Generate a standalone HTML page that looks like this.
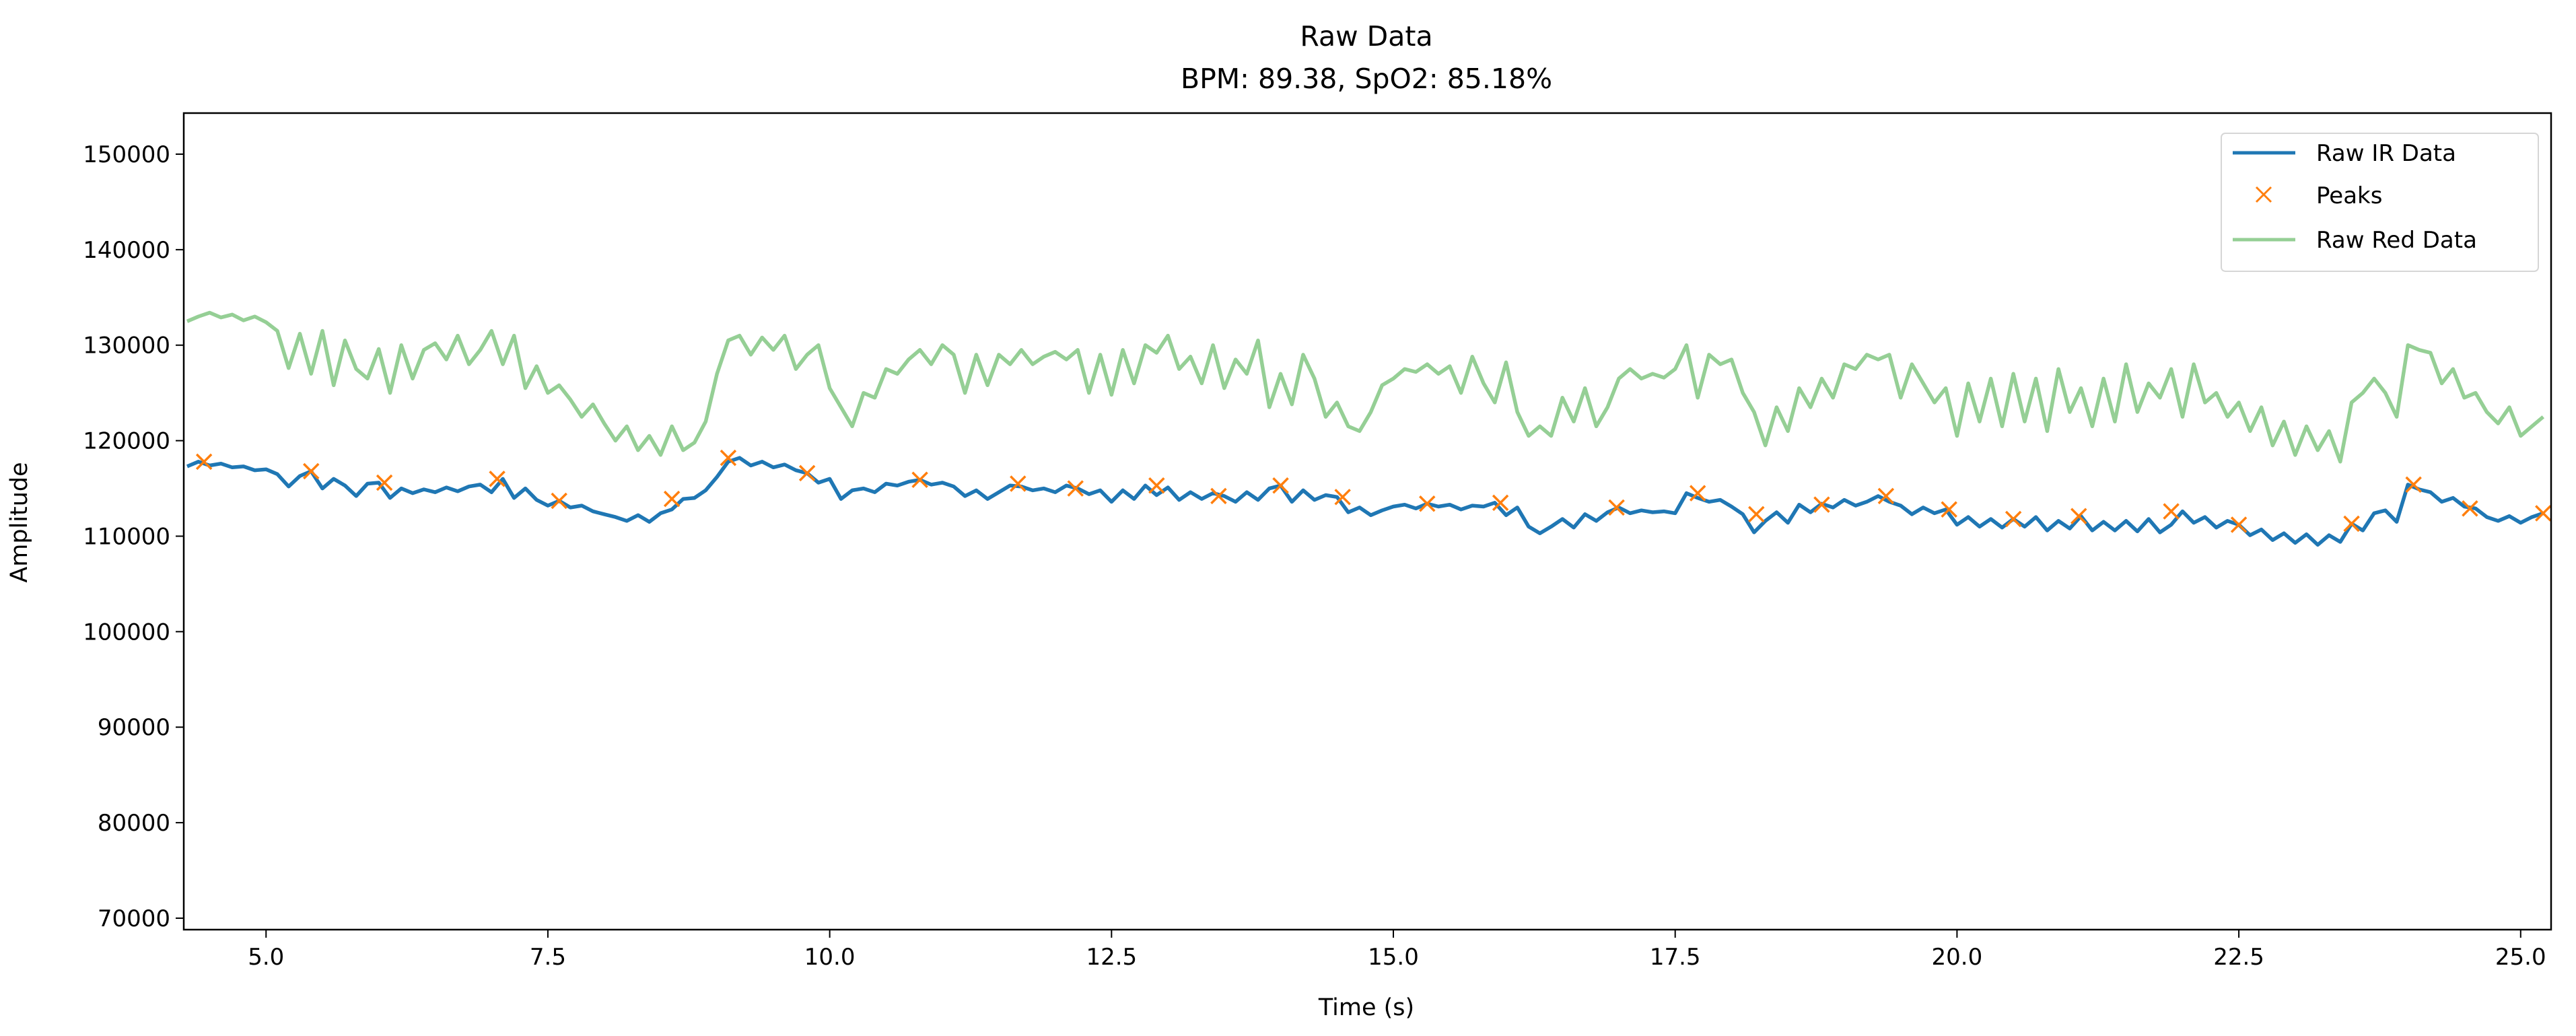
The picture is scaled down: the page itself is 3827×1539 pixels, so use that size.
<!DOCTYPE html>
<html><head><meta charset="utf-8"><style>
html,body{margin:0;padding:0;background:#fff;}
svg{display:block;font-family:"DejaVu Sans","Liberation Sans",sans-serif;}
</style></head><body>
<svg id="chart" width="3827" height="1539" viewBox="0 0 3827 1539" xmlns="http://www.w3.org/2000/svg">
<rect width="3827" height="1539" fill="#fff"/>
<text x="2030" y="68" font-size="41" text-anchor="middle" fill="#000">Raw Data</text>
<text x="2030" y="131" font-size="41" text-anchor="middle" fill="#000">BPM: 89.38, SpO2: 85.18%</text>
<text x="2030" y="1508" font-size="35" text-anchor="middle" fill="#000">Time (s)</text>
<text transform="translate(40,776) rotate(-90)" font-size="35" text-anchor="middle" fill="#000">Amplitude</text>
<defs><clipPath id="plotclip"><rect x="273" y="168" width="3517" height="1213"/></clipPath></defs>
<g id="ticks"></g>
<g id="series" clip-path="url(#plotclip)"></g>
<rect x="273" y="168" width="3517" height="1213" fill="none" stroke="#000" stroke-width="2.5"/>
<g>
<rect x="3300" y="198" width="471" height="205" rx="6" fill="#fff" fill-opacity="0.8" stroke="#d6d6d6" stroke-width="2"/>
<line x1="3317" y1="227" x2="3410" y2="227" stroke="#1f77b4" stroke-width="5"/>
<text x="3441" y="239" font-size="34" fill="#000">Raw IR Data</text>
<path d="M3352,278 L3374,300 M3374,278 L3352,300" stroke="#ff7f0e" stroke-width="3"/>
<text x="3441" y="302" font-size="34" fill="#000">Peaks</text>
<line x1="3317" y1="356" x2="3410" y2="356" stroke="#95cf95" stroke-width="5"/>
<text x="3441" y="368" font-size="34" fill="#000">Raw Red Data</text>
</g>
</svg>
<script>
const xTicks = [5.0, 7.5, 10.0, 12.5, 15.0, 17.5, 20.0, 22.5, 25.0];
const xTickLabels = ["5.0","7.5","10.0","12.5","15.0","17.5","20.0","22.5","25.0"];
const yTicks = [70000, 80000, 90000, 100000, 110000, 120000, 130000, 140000, 150000];
const yTickLabels = ["70000","80000","90000","100000","110000","120000","130000","140000","150000"];
const tStart = 4.3;
const tStep = 0.1;
// Raw IR data (thousands)
const irK = [
117.3,117.8,117.4,117.6,117.2,117.3,116.9,117.0,116.5,115.2,
116.3,116.8,115.0,116.0,115.3,114.2,115.5,115.6,114.0,115.0,
114.5,114.9,114.6,115.1,114.7,115.2,115.4,114.6,116.0,114.0,
115.0,113.8,113.2,113.7,113.0,113.2,112.6,112.3,112.0,111.6,
112.2,111.5,112.4,112.8,113.9,114.0,114.8,116.2,117.8,118.2,
117.4,117.8,117.2,117.5,116.9,116.6,115.6,116.0,113.9,114.8,
115.0,114.6,115.5,115.3,115.7,115.9,115.4,115.6,115.2,114.2,
114.8,113.9,114.6,115.3,115.2,114.8,115.0,114.6,115.3,115.0,
114.4,114.8,113.6,114.8,113.9,115.3,114.3,115.1,113.8,114.6,
113.9,114.5,114.2,113.6,114.6,113.8,115.0,115.3,113.6,114.8,
113.8,114.3,114.1,112.5,113.0,112.2,112.7,113.1,113.3,112.9,
113.4,113.1,113.3,112.8,113.2,113.1,113.5,112.2,113.0,111.0,
110.3,111.0,111.8,110.9,112.3,111.6,112.5,113.0,112.4,112.7,
112.5,112.6,112.4,114.5,114.0,113.6,113.8,113.1,112.3,110.4,
111.6,112.5,111.4,113.3,112.5,113.4,113.0,113.8,113.2,113.6,
114.2,113.6,113.2,112.3,113.0,112.4,112.8,111.2,112.0,111.0,
111.8,110.9,111.8,111.0,112.0,110.6,111.6,110.8,112.1,110.6,
111.5,110.6,111.6,110.5,111.8,110.4,111.2,112.6,111.4,112.0,
110.9,111.6,111.2,110.1,110.7,109.6,110.3,109.3,110.2,109.1,
110.1,109.4,111.3,110.6,112.4,112.7,111.5,115.4,114.9,114.6,
113.6,114.0,113.1,112.9,112.0,111.6,112.1,111.4,112.0,112.4];
// Raw Red data (thousands)
const redK = [
132.5,133.0,133.4,132.9,133.2,132.6,133.0,132.4,131.5,127.6,
131.2,127.0,131.5,125.8,130.5,127.5,126.5,129.6,125.0,130.0,
126.5,129.5,130.2,128.5,131.0,128.0,129.5,131.5,128.0,131.0,
125.5,127.8,125.0,125.8,124.3,122.5,123.8,121.8,120.0,121.5,
119.0,120.5,118.5,121.5,119.0,119.8,122.0,127.0,130.5,131.0,
129.0,130.8,129.5,131.0,127.5,129.0,130.0,125.5,123.5,121.5,
125.0,124.5,127.5,127.0,128.5,129.5,128.0,130.0,129.0,125.0,
129.0,125.8,129.0,128.0,129.5,128.0,128.8,129.3,128.5,129.5,
125.0,129.0,124.8,129.5,126.0,130.0,129.2,131.0,127.5,128.8,
126.0,130.0,125.5,128.5,127.0,130.5,123.5,127.0,123.8,129.0,
126.5,122.5,124.0,121.5,121.0,123.0,125.8,126.5,127.5,127.2,
128.0,127.0,127.8,125.0,128.8,126.0,124.0,128.2,123.0,120.5,
121.5,120.5,124.5,122.0,125.5,121.5,123.5,126.5,127.5,126.5,
127.0,126.6,127.5,130.0,124.5,129.0,128.0,128.5,125.0,123.0,
119.5,123.5,121.0,125.5,123.5,126.5,124.5,128.0,127.5,129.0,
128.5,129.0,124.5,128.0,126.0,124.0,125.5,120.5,126.0,122.0,
126.5,121.5,127.0,122.0,126.5,121.0,127.5,123.0,125.5,121.5,
126.5,122.0,128.0,123.0,126.0,124.5,127.5,122.5,128.0,124.0,
125.0,122.5,124.0,121.0,123.5,119.5,122.0,118.5,121.5,119.0,
121.0,117.8,124.0,125.0,126.5,125.0,122.5,130.0,129.5,129.2,
126.0,127.5,124.5,125.0,123.0,121.8,123.5,120.5,121.5,122.5];
const peakTimes = [4.45,5.4,6.05,7.05,7.6,8.6,9.1,9.8,10.8,11.67,12.18,12.9,13.45,14.0,14.55,15.3,15.95,16.98,17.7,18.22,18.8,19.37,19.93,20.5,21.08,21.9,22.5,23.5,24.05,24.55,25.2];
const peakValsK = [117.8,116.8,115.6,116.0,113.7,113.9,118.2,116.6,115.9,115.5,115.0,115.3,114.2,115.3,114.1,113.4,113.5,113.0,114.5,112.3,113.3,114.2,112.8,111.8,112.1,112.6,111.2,111.3,115.4,112.9,112.4];

const X0 = 273, X1 = 3790, Y0 = 168, Y1 = 1381;
const xMin = 4.27, xMax = 25.27, yMin = 68800, yMax = 154300;
function xs(v){ return X0 + (v - xMin) / (xMax - xMin) * (X1 - X0); }
function ys(v){ return Y1 - (v - yMin) / (yMax - yMin) * (Y1 - Y0); }
const NS = "http://www.w3.org/2000/svg";
const tickG = document.getElementById('ticks');
const serG = document.getElementById('series');

xTicks.forEach((t, i) => {
  const l = document.createElementNS(NS, 'line');
  
  
  l.setAttribute('x1', xs(t)); l.setAttribute('x2', xs(t));
  l.setAttribute('y1', Y1); l.setAttribute('y2', Y1 + 12);
  l.setAttribute('stroke', '#000'); l.setAttribute('stroke-width', '2');
  tickG.appendChild(l);
  const tx = document.createElementNS(NS, 'text');
  
  
  tx.setAttribute('x', xs(t)); tx.setAttribute('y', Y1 + 52);
  tx.setAttribute('font-size', '34'); tx.setAttribute('text-anchor', 'middle');
  tx.textContent = xTickLabels[i];
  tickG.appendChild(tx);
});
yTicks.forEach((t, i) => {
  const l = document.createElementNS(NS, 'line');
  
  
  l.setAttribute('x1', X0 - 12); l.setAttribute('x2', X0);
  l.setAttribute('y1', ys(t)); l.setAttribute('y2', ys(t));
  l.setAttribute('stroke', '#000'); l.setAttribute('stroke-width', '2');
  tickG.appendChild(l);
  const tx = document.createElementNS(NS, 'text');
  
  
  tx.setAttribute('x', X0 - 20); tx.setAttribute('y', ys(t) + 12);
  tx.setAttribute('font-size', '34'); tx.setAttribute('text-anchor', 'end');
  tx.textContent = yTickLabels[i];
  tickG.appendChild(tx);
});

function linePath(arr){
  return arr.map((v, i) => (i ? 'L' : 'M') + xs(tStart + i * tStep).toFixed(1) + ',' + ys(v * 1000).toFixed(1)).join(' ');
}
const irPath = document.createElementNS(NS, 'path');


irPath.setAttribute('d', linePath(irK));
irPath.setAttribute('fill', 'none'); irPath.setAttribute('stroke', '#1f77b4');
irPath.setAttribute('stroke-width', '5.5'); irPath.setAttribute('stroke-linejoin', 'round');
serG.appendChild(irPath);

peakTimes.forEach((t, i) => {
  const cx = xs(t), cy = ys(peakValsK[i] * 1000), s = 11;
  const m = document.createElementNS(NS, 'path');
  
  
  m.setAttribute('d', `M${cx-s},${cy-s} L${cx+s},${cy+s} M${cx+s},${cy-s} L${cx-s},${cy+s}`);
  m.setAttribute('stroke', '#ff7f0e'); m.setAttribute('stroke-width', '3.5');
  serG.appendChild(m);
});

const redPath = document.createElementNS(NS, 'path');


redPath.setAttribute('d', linePath(redK));
redPath.setAttribute('fill', 'none'); redPath.setAttribute('stroke', '#95cf95');
redPath.setAttribute('stroke-width', '5.5'); redPath.setAttribute('stroke-linejoin', 'round');
serG.appendChild(redPath);
</script>
</body></html>
